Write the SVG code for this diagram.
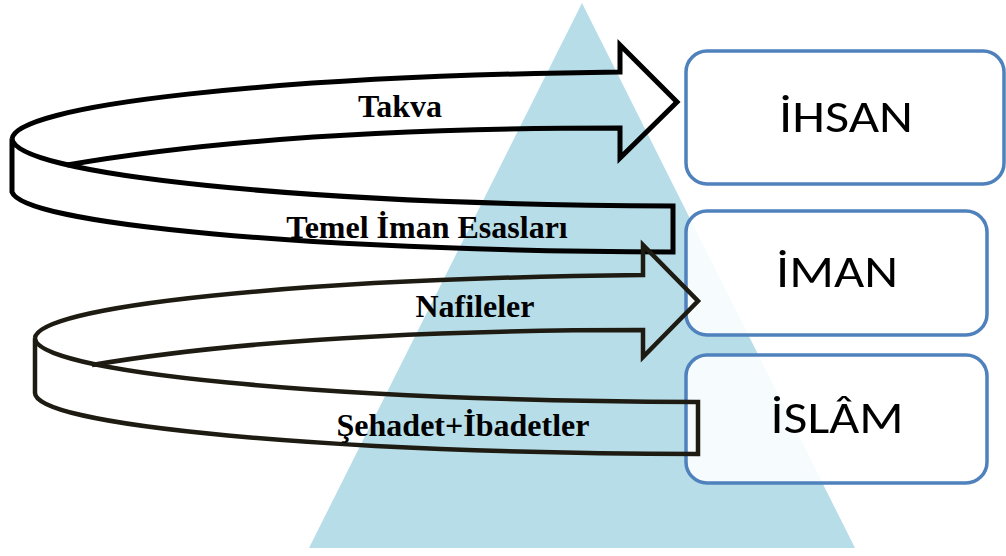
<svg xmlns="http://www.w3.org/2000/svg" width="1006" height="556" viewBox="0 0 1006 556">
<style>
.box{fill:#ffffff;fill-opacity:0.88;stroke:#4F81BD;stroke-width:3.5}
.blabel{font-family:Calibri,Carlito,"Open Sans",sans-serif;font-size:46px;fill:#000;text-anchor:middle}
.arrowA{fill:none;stroke:#000;stroke-width:5;stroke-linejoin:miter;stroke-miterlimit:10}
.arrowB{fill:none;stroke:#1E1B12;stroke-width:4.5;stroke-linejoin:miter;stroke-miterlimit:10}
.alabel{font-family:"Liberation Serif","Times New Roman",serif;font-weight:bold;font-size:32px;fill:#000;text-anchor:middle}
</style>
<rect width="1006" height="556" fill="#ffffff"/>
<polygon id="pyramid" points="582,3 309,548 855,548" fill="#B7DDE8"/>
<g id="ihsan">
<rect class="box" x="686" y="51" width="318" height="133" rx="21"/>
<text class="blabel" x="846" y="132" textLength="134" lengthAdjust="spacingAndGlyphs">İHSAN</text>
</g>
<g id="iman">
<rect class="box" x="686" y="211" width="301" height="124" rx="21"/>
<text class="blabel" x="837" y="287" textLength="122" lengthAdjust="spacingAndGlyphs">İMAN</text>
</g>
<g id="islam">
<rect class="box" x="686" y="355" width="301" height="128" rx="21"/>
<text class="blabel" x="837" y="433" textLength="133" lengthAdjust="spacingAndGlyphs">İSLÂM</text>
</g>
<g id="connectors">
<g id="arrow-upper">
<path class="arrowA" d="M12,139 A688,68 0 0 0 673,206 L673,252 A688,62 0 0 1 12,192 Z"/>
<path class="arrowA" d="M12,139 A688,68 0 0 1 620,72 L620,45 L677,102 L620,158 L620,128 Q280,128 67,165"/>
</g>
<g id="arrow-lower">
<path class="arrowB" d="M35,338 A685,64 0 0 0 698,402 L698,454 A685,61 0 0 1 35,393 Z"/>
<path class="arrowB" d="M35,338 A685,64 0 0 1 643,275 L643,245 L698,301 L643,357 L643,330 Q300,330 92,365"/>
</g>
</g>
<g id="labels">
<text class="alabel" x="400" y="117">Takva</text>
<text class="alabel" x="427" y="238">Temel İman Esasları</text>
<text class="alabel" x="475" y="317">Nafileler</text>
<text class="alabel" x="463" y="436">Şehadet+İbadetler</text>
</g>
</svg>
